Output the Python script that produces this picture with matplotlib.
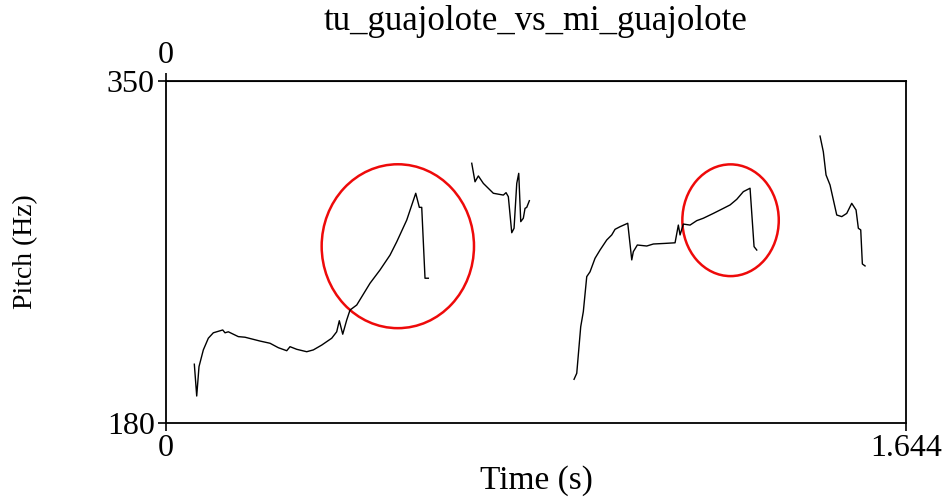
import matplotlib.pyplot as plt
from matplotlib.patches import Ellipse

plt.rcParams['font.family'] = ['Liberation Serif', 'DejaVu Serif']

# pitch contour segments (time s, pitch Hz)
t1 = [0.0629, 0.0682, 0.0733, 0.0829, 0.0940, 0.1051, 0.1260, 0.1311, 0.1384, 0.1606,
      0.1755, 0.2088, 0.2311, 0.2495, 0.2682, 0.2755, 0.2904, 0.3126, 0.3273, 0.3459,
      0.3681, 0.3792, 0.3850, 0.3926, 0.4015, 0.4088, 0.4237, 0.4532, 0.4754, 0.4977,
      0.5126, 0.5348, 0.5548, 0.5628, 0.5681, 0.5754, 0.5828]
f1 = [209.2, 193.4, 208.0, 216.3, 222.1, 224.8, 226.2, 224.8, 225.3, 222.9,
      222.6, 220.7, 219.6, 217.4, 215.9, 217.9, 216.6, 215.4, 216.3, 218.7,
      222.1, 225.3, 230.8, 224.1, 231.2, 236.1, 238.6, 249.4, 256.0, 263.4,
      270.0, 280.8, 294.1, 287.1, 287.1, 251.9, 251.9]

t2 = [0.6792, 0.6865, 0.6939, 0.7050, 0.7272, 0.7494, 0.7554, 0.7605, 0.7681, 0.7732,
      0.7792, 0.7836, 0.7881, 0.7938, 0.7976, 0.8014, 0.8072]
f2 = [309.0, 299.8, 302.7, 299.0, 294.1, 293.2, 294.4, 292.4, 274.5, 276.7,
      299.0, 304.0, 280.0, 281.7, 286.6, 287.1, 290.4]

t3 = [0.9065, 0.9125, 0.9213, 0.9271, 0.9347, 0.9420, 0.9531, 0.9642, 0.9791, 0.9902,
      0.9976, 1.0087, 1.0258, 1.0347, 1.0382, 1.0471, 1.0680, 1.0827, 1.1086, 1.1309,
      1.1382, 1.1420, 1.1493, 1.1642, 1.1791, 1.1937, 1.2160, 1.2382, 1.2531, 1.2680,
      1.2826, 1.2975, 1.3064, 1.3124]
f3 = [201.7, 204.7, 227.8, 235.3, 252.7, 255.1, 261.8, 265.9, 270.9, 273.4,
      276.2, 277.5, 279.2, 261.0, 265.1, 268.4, 267.9, 268.9, 269.2, 269.5,
      278.3, 273.4, 278.8, 278.3, 280.5, 281.7, 284.1, 286.6, 288.3, 291.1,
      294.9, 296.6, 267.6, 265.9]

t4 = [1.4530, 1.4603, 1.4663, 1.4752, 1.4901, 1.5012, 1.5123, 1.5234, 1.5330, 1.5381,
      1.5434, 1.5470, 1.5530]
f4 = [322.5, 314.7, 303.2, 298.2, 283.3, 282.5, 284.1, 289.1, 285.8, 276.7,
      275.9, 259.0, 258.0]

# highlighted regions: (centre t, centre f, width s, height Hz)
circles = [(0.5150, 267.8, 0.3384, 81.4),
           (1.2542, 280.7, 0.2142, 55.5)]

t_min, t_max = 0, 1.644
f_min, f_max = 180, 350

fig = plt.figure(figsize=(9.53, 4.97), dpi=100)
ax = fig.add_axes([0.1742, 0.1489, 0.7765, 0.6887])

for t, f in [(t1, f1), (t2, f2), (t3, f3), (t4, f4)]:
    ax.plot(t, f, color='black', lw=1.0)

for ct, cf, w, h in circles:
    ax.add_patch(Ellipse((ct, cf), w, h, fill=False, edgecolor='#ee0a0a', lw=1.8))

ax.set_xlim(t_min, t_max)
ax.set_ylim(f_min, f_max)
ax.set_xticks([t_min, t_max])
ax.set_xticklabels(['0', '1.644'])
ax.set_yticks([f_min, f_max])
ax.set_yticklabels(['180', '350'])
ax.tick_params(direction='out', length=6, width=1.2, labelsize=23, pad=2)
for s in ax.spines.values():
    s.set_linewidth(1.3)

top = ax.secondary_xaxis('top')
top.set_xticks([0])
top.set_xticklabels(['0'])
top.tick_params(direction='out', length=6, width=1.2, labelsize=23, pad=2)

ax.set_xlabel('Time (s)', fontsize=24, va='center')
ax.xaxis.set_label_coords(0.5, -0.167)
ax.set_ylabel('Pitch (Hz)', fontsize=20, va='center')
ax.yaxis.set_label_coords(-0.19, 0.5)
fig.text(0.5625, 0.956, 'tu_guajolote_vs_mi_guajolote', fontsize=25,
         ha='center', va='center')

fig.savefig('out.png', dpi=100)
